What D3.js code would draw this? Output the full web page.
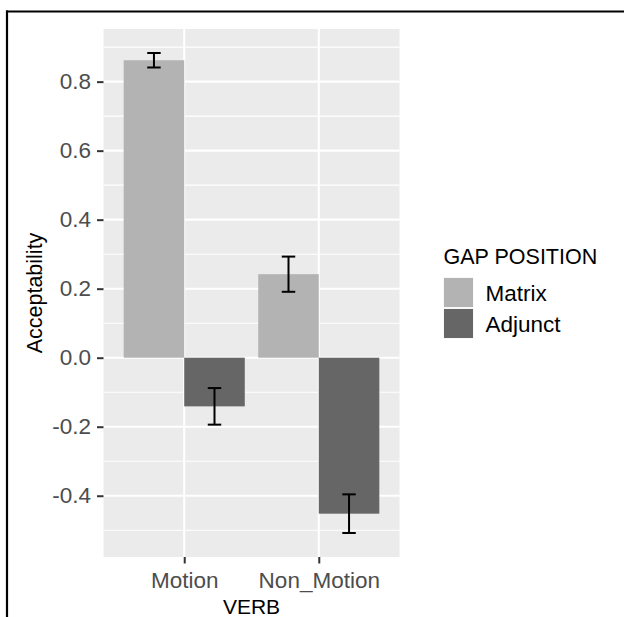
<!DOCTYPE html>
<html>
<head>
<meta charset="utf-8">
<script src="https://cdn.jsdelivr.net/npm/d3@7"></script>
<style>
  html, body { margin: 0; padding: 0; background: #ffffff; overflow: hidden; }
  svg { display: block; font-family: "Liberation Sans", Arial, sans-serif; }
</style>
</head>
<body>
<svg id="chart" width="624" height="617"></svg>
<script>
// Verb type on the x axis, gap position as the fill grouping
const verbs = ["Motion", "Non_Motion"];
const gapPositions = ["Matrix", "Adjunct"];
const gapColors = ["#b3b3b3", "#666666"];

// Mean acceptability and standard error, one value per verb, per gap position
const matrixMeans = [0.862, 0.242];
const matrixSE = [0.021, 0.051];
const adjunctMeans = [-0.141, -0.452];
const adjunctSE = [0.053, 0.056];

const yTicks = [-0.4, -0.2, 0.0, 0.2, 0.4, 0.6, 0.8];
const yMinorTicks = [-0.5, -0.3, -0.1, 0.1, 0.3, 0.5, 0.7, 0.9];

const rows = [];
verbs.forEach((v, i) => {
  rows.push({ verb: v, gap: "Matrix", mean: matrixMeans[i], se: matrixSE[i] });
  rows.push({ verb: v, gap: "Adjunct", mean: adjunctMeans[i], se: adjunctSE[i] });
});

const svg = d3.select("#chart");
const panel = { left: 103.5, right: 399.5, top: 29, bottom: 557 };

// y domain: data extent (including zero) expanded by 5% on each side
const lo = Math.min(0, d3.min(rows, d => d.mean - d.se));
const hi = Math.max(0, d3.max(rows, d => d.mean + d.se));
const pad = (hi - lo) * 0.05;
const y = d3.scaleLinear().domain([lo - pad, hi + pad]).range([panel.bottom, panel.top]);

// discrete x: categories with 0.6 units of padding on each side
const x = d3.scalePoint().domain(verbs).range([panel.left, panel.right]).padding(0.6);
const step = x.step();
const barW = 0.45 * step;
const dodge = d3.scaleOrdinal().domain(gapPositions).range([-0.225 * step, 0.225 * step]);
const color = d3.scaleOrdinal().domain(gapPositions).range(gapColors);

// tick labels with a plain hyphen for negatives
const fmt = d => d.toFixed(1);

// panel background
svg.append("rect")
  .attr("x", panel.left).attr("y", panel.top)
  .attr("width", panel.right - panel.left).attr("height", panel.bottom - panel.top)
  .attr("fill", "#ebebeb");

// grid lines
const grid = svg.append("g");
grid.selectAll("line.minor").data(yMinorTicks.filter(t => y(t) > panel.top && y(t) < panel.bottom))
  .join("line").attr("class", "minor")
  .attr("x1", panel.left).attr("x2", panel.right)
  .attr("y1", d => y(d)).attr("y2", d => y(d))
  .attr("stroke", "#ffffff").attr("stroke-width", 1.1);
grid.selectAll("line.major").data(yTicks)
  .join("line").attr("class", "major")
  .attr("x1", panel.left).attr("x2", panel.right)
  .attr("y1", d => y(d)).attr("y2", d => y(d))
  .attr("stroke", "#ffffff").attr("stroke-width", 2.1);
grid.selectAll("line.vmajor").data(verbs)
  .join("line").attr("class", "vmajor")
  .attr("y1", panel.top).attr("y2", panel.bottom)
  .attr("x1", d => x(d)).attr("x2", d => x(d))
  .attr("stroke", "#ffffff").attr("stroke-width", 2.1);

// bars
svg.append("g").selectAll("rect").data(rows).join("rect")
  .attr("x", d => x(d.verb) + dodge(d.gap) - barW / 2)
  .attr("width", barW)
  .attr("y", d => Math.min(y(d.mean), y(0)))
  .attr("height", d => Math.abs(y(d.mean) - y(0)))
  .attr("fill", d => color(d.gap));

// error bars
const capW = 0.1 * step;
const eb = svg.append("g").attr("stroke", "#000000").attr("stroke-width", 2).attr("fill", "none");
rows.forEach(d => {
  const cx = x(d.verb) + dodge(d.gap);
  const yt = y(d.mean + d.se), yb = y(d.mean - d.se);
  eb.append("line").attr("x1", cx).attr("x2", cx).attr("y1", yt).attr("y2", yb);
  eb.append("line").attr("x1", cx - capW / 2).attr("x2", cx + capW / 2).attr("y1", yt).attr("y2", yt);
  eb.append("line").attr("x1", cx - capW / 2).attr("x2", cx + capW / 2).attr("y1", yb).attr("y2", yb);
});

// y axis
const yAxis = svg.append("g")
  .attr("transform", `translate(${panel.left},0)`)
  .call(d3.axisLeft(y).tickValues(yTicks).tickFormat(fmt).tickSizeOuter(0).tickSizeInner(6.5).tickPadding(6));
yAxis.select(".domain").remove();
yAxis.selectAll(".tick line").attr("stroke", "#333333").attr("stroke-width", 2);
yAxis.selectAll(".tick text")
  .attr("fill", "#4d4d4d").style("font-size", "22.5px")
  .attr("font-family", "Liberation Sans, Arial, sans-serif");

// x axis
const xAxis = svg.append("g")
  .attr("transform", `translate(0,${panel.bottom})`)
  .call(d3.axisBottom(x).tickSizeOuter(0).tickSizeInner(6.5).tickPadding(6));
xAxis.select(".domain").remove();
xAxis.selectAll(".tick line").attr("stroke", "#333333").attr("stroke-width", 2);
xAxis.selectAll(".tick text")
  .attr("fill", "#4d4d4d").style("font-size", "22.5px")
  .attr("font-family", "Liberation Sans, Arial, sans-serif")
  .attr("dy", null).attr("y", 30.5);

// axis titles
svg.append("text")
  .attr("x", (panel.left + panel.right) / 2).attr("y", 614)
  .attr("text-anchor", "middle").style("font-size", "21px").attr("fill", "#000")
  .text("VERB");
svg.append("text")
  .attr("transform", `translate(42,${(panel.top + panel.bottom) / 2}) rotate(-90)`)
  .attr("text-anchor", "middle").style("font-size", "21.5px").attr("fill", "#000")
  .text("Acceptability");

// legend
const legend = svg.append("g").attr("transform", "translate(443.5,0)");
legend.append("text").attr("x", 0).attr("y", 264)
  .style("font-size", "21.5px").attr("fill", "#000").text("GAP POSITION");
const items = legend.selectAll("g.item").data(gapPositions).join("g")
  .attr("class", "item")
  .attr("transform", (d, i) => `translate(0,${277.5 + i * 31})`);
items.append("rect").attr("width", 30).attr("height", 30).attr("fill", "#f2f2f2");
items.append("rect").attr("x", 0.5).attr("y", 0.5).attr("width", 29).attr("height", 29)
  .attr("fill", d => color(d));
items.append("text").attr("x", 42).attr("y", (d, i) => i === 0 ? 23.5 : 23)
  .style("font-size", "22.5px").attr("fill", "#000").text(d => d);

// outer frame: top and left edges
const frame = svg.append("g").attr("stroke", "#000").attr("stroke-width", 2.2);
frame.append("line").attr("x1", 6).attr("x2", 624).attr("y1", 11.5).attr("y2", 11.5);
frame.append("line").attr("x1", 7).attr("x2", 7).attr("y1", 10.4).attr("y2", 617);
</script>
</body>
</html>
